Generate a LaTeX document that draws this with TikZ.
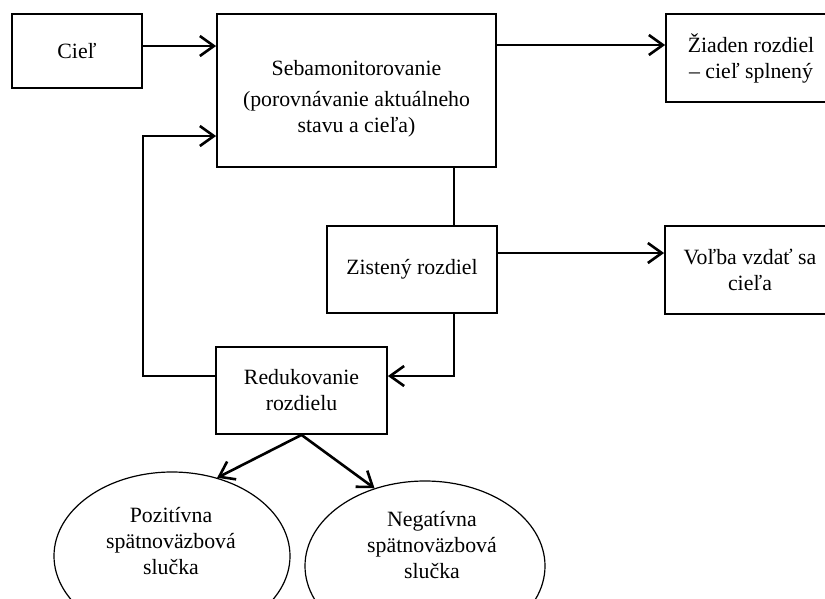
\documentclass[tikz,border=0pt]{standalone}
\usepackage{fontspec}
\setmainfont{Liberation Serif}
\usetikzlibrary{arrows.meta,shapes.geometric}
\begin{document}
\begin{tikzpicture}[x=1pt,y=1pt,
  box/.style={draw,line width=1.8pt,align=center,inner sep=0pt,
    font=\fontsize{21.8}{26}\selectfont},
  oval/.style={draw,ellipse,line width=1.2pt,inner sep=0pt},
  lbl/.style={align=center,inner sep=0pt,font=\fontsize{21.8}{26}\selectfont},
  arr/.style={line width=2.6pt,-{Straight Barb[length=14pt,width=20pt,line width=2.6pt]}},
  ln/.style={line width=2pt}]
\useasboundingbox (0,0) rectangle (825,-598);
\clip (0,0) rectangle (825,-598);

% boxes
\node[box,minimum width=130,minimum height=74] (ciel) at (77,-51) {Cieľ};
\node[box,minimum width=279,minimum height=153] (sebm) at (356.5,-90.5) {};
\node[lbl] (sebmA) at (356.5,-68) {Sebamonitorovanie};
\node[lbl] (sebmB) at (356.5,-114) {(porovnávanie aktuálneho\\stavu a cieľa)};
\node[box,minimum width=170,minimum height=88] (ziaden) at (751,-58) {Žiaden rozdiel\\– cieľ splnený};
\node[box,minimum width=170,minimum height=87] (zist) at (412,-269.5) {Zistený rozdiel};
\node[box,minimum width=170,minimum height=88] (volba) at (750,-270) {Voľba vzdať sa\\cieľa};
\node[box,minimum width=171,minimum height=87] (red) at (301.5,-390.5) {Redukovanie\\rozdielu};

% feedback loops
\node[oval,minimum width=236,minimum height=168] (pos) at (172,-556) {};
\node[lbl] (posT) at (171,-541) {Pozitívna\\spätnoväzbová\\slučka};
\node[oval,minimum width=240,minimum height=170] (neg) at (425,-566) {};
\node[lbl] (negT) at (432,-545) {Negatívna\\spätnoväzbová\\slučka};

\coordinate (fb) at (143,-256);

% connectors
\draw[arr] ([yshift=5]ciel.east) -- ([yshift=5]ciel.east -| sebm.west);
\draw[arr] ([yshift=45.5]sebm.east) -- ([yshift=45.5]sebm.east -| ziaden.west);
\draw[ln] ([xshift=42]zist.north) -- ([xshift=42]zist.north |- sebm.south);
\draw[arr] ([yshift=16.5]zist.east) -- ([yshift=16.5]zist.east -| volba.west);
\draw[arr] ([xshift=42]zist.south) |- ([yshift=14.5]red.east);
\draw[arr] ([yshift=14.5]red.west) -| (fb) |- ([yshift=-45.5]sebm.west);
\draw[arr] (red.south) -- (pos.60);
\draw[arr] (red.south) -- (neg.123);
\end{tikzpicture}
\end{document}
